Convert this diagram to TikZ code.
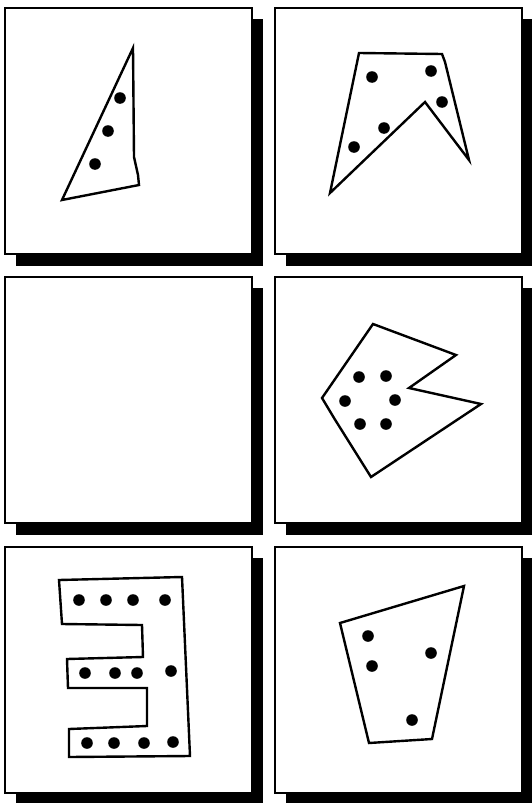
\documentclass[tikz,border=0pt]{standalone}
\begin{document}
\begin{tikzpicture}[x=1pt,y=-1pt,
  panel/.style={draw=black,fill=white,line width=1.6pt},
  shadowbox/.style={fill=black},
  outline/.style={draw=black,line width=2.4pt,line join=miter},
  dot/.style={fill=black}]
\useasboundingbox (0,0) rectangle (532,803);
% panels with shadows
\foreach \x/\y in {5/8, 275/8, 5/277, 275/277, 5/547, 275/547}{
  \fill[shadowbox] (\x+11,\y+11) rectangle (\x+258,\y+258);
  \draw[panel] (\x,\y) rectangle (\x+247,\y+246);
}
% panel 1: triangle
\draw[outline] (133,48) -- (134,157) -- (138,175) -- (139,185) -- (62,200) -- cycle;
\foreach \p in {(120,98),(108,131),(95,164)} \fill[dot] \p circle (5.8);
% panel 2: peaked shape
\draw[outline] (359,53) -- (442,54) -- (445,62) -- (469,160) -- (425,102) -- (330,193) -- cycle;
\foreach \p in {(372,77),(431,71),(442,102),(384,128),(354,147)} \fill[dot] \p circle (5.8);
% panel 4: notched shape
\draw[outline] (373,324) -- (456,355) -- (409,388) -- (481,404) -- (371,477) -- (334,418) -- (322,398) -- cycle;
\foreach \p in {(359,377),(386,376),(345,401),(395,400),(360,424),(386,424)} \fill[dot] \p circle (5.8);
% panel 5: comb shape
\draw[outline] (59,580) -- (182,577) -- (190,756) -- (69,757) -- (69,729) -- (147,726) -- (147,688)
  -- (68,688) -- (67,659) -- (143,657) -- (142,625) -- (62,624) -- cycle;
\foreach \p in {(79,600),(106,600),(133,600),(165,600),
                (85,673),(115,673),(137,673),(171,671),
                (87,743),(114,743),(144,743),(173,742)} \fill[dot] \p circle (5.8);
% panel 6: quadrilateral
\draw[outline] (340,623) -- (464,586) -- (432,739) -- (369,743) -- cycle;
\foreach \p in {(368,636),(372,666),(431,653),(412,720)} \fill[dot] \p circle (5.8);
\end{tikzpicture}
\end{document}
